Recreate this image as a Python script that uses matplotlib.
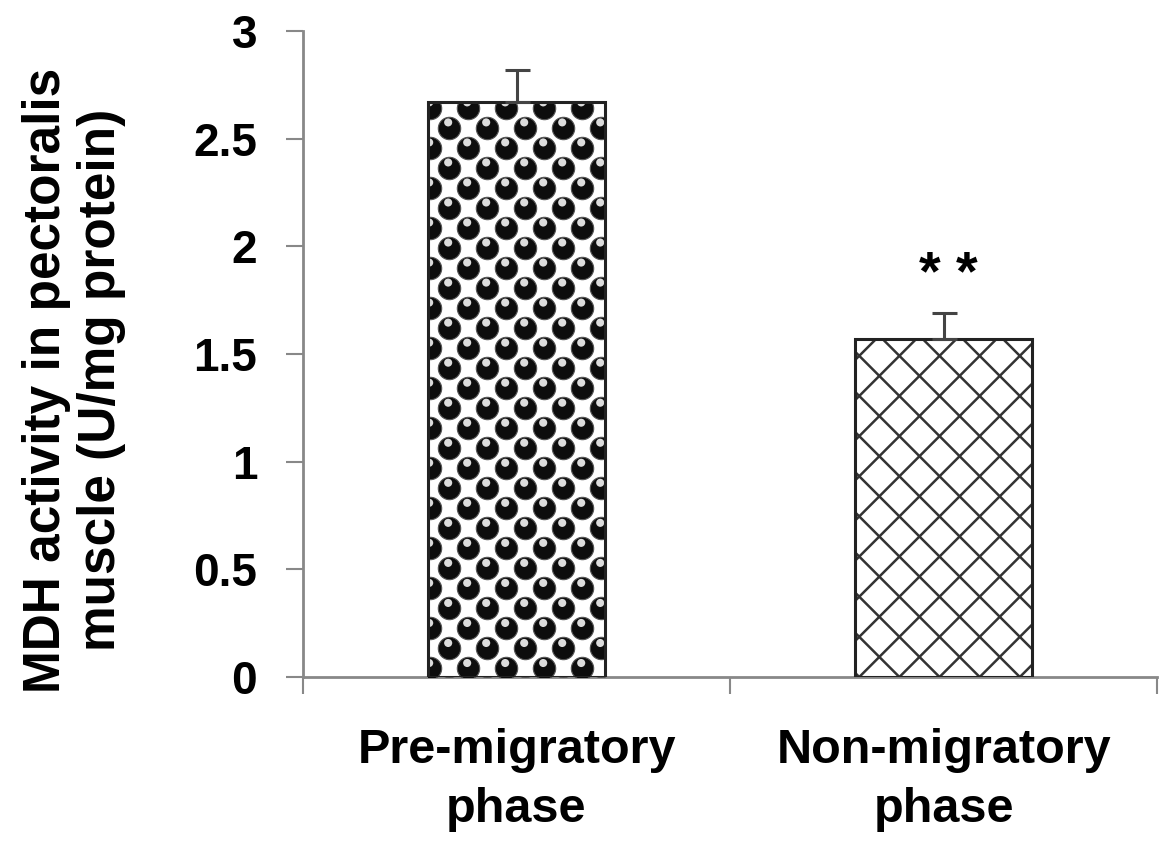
import numpy as np
import matplotlib
matplotlib.use("Agg")
import matplotlib.pyplot as plt
from matplotlib.lines import Line2D

categories = ["Pre-migratory\nphase", "Non-migratory\nphase"]
means = [2.67, 1.57]
errors = [0.15, 0.12]
signif = ["", "* *"]
yticks = [0, 0.5, 1, 1.5, 2, 2.5, 3]

plt.rcParams['font.family'] = ['Liberation Sans', 'DejaVu Sans']
plt.rcParams['font.weight'] = 'bold'

fig = plt.figure(figsize=(11.59, 8.41), dpi=100)
ax = fig.add_axes([0.2614, 0.195, 0.737, 0.768])

x = np.arange(len(categories))
w = 0.415
bars = ax.bar(x, means, width=w, color='white', edgecolor='#222222', linewidth=2, zorder=3)
ax.errorbar(x, means, yerr=[np.zeros(len(errors)), errors], fmt='none', ecolor='#444444',
            elinewidth=2.2, capsize=9, capthick=2.2, zorder=4)

ax.set_xlim(-0.5, 1.5)
ax.set_ylim(0, 3)

# pattern 1: staggered black balls
b = bars[0]
dx, dy = 0.089, 0.093
pts_x, pts_y = [], []
row = 0
yy = means[0] - 0.025
while yy > -dy:
    off = 0 if row % 2 == 0 else dx / 2
    xx = x[0] - w / 2 + 0.006 + off
    while xx < x[0] + w / 2 + dx:
        pts_x.append(xx)
        pts_y.append(yy)
        xx += dx
    yy -= dy
    row += 1
pts_x = np.array(pts_x)
pts_y = np.array(pts_y)
sc = ax.scatter(pts_x, pts_y, s=260, c='#0d0d0d', edgecolors='#555555', linewidths=0.8, zorder=3.5)
sc.set_clip_path(b)
hl = ax.scatter(pts_x - 0.003, pts_y + 0.024, s=34, c='#f4f4f4', marker='o',
                edgecolors='none', alpha=0.9, zorder=3.6)
hl.set_clip_path(b)

# pattern 2: diagonal cross-hatch at 45 degrees on screen
b2 = bars[1]
sx = 0.094
pos = ax.get_position()
slope = (pos.width * 1159 / 2) / (pos.height * 841 / 3)
for k in np.arange(-30, 30):
    x0 = x[1] - w / 2 + 0.01 + k * sx
    for sgn in (1, -1):
        ln = Line2D([x0, x0 + sgn * 2], [0, 2 * slope], color='#333333', lw=1.8, zorder=3.5)
        ax.add_line(ln)
        ln.set_clip_path(b2)
ax.bar(x, means, width=w, color='none', edgecolor='#222222', linewidth=2.2, zorder=3.7)

for i, s in enumerate(signif):
    if s:
        ax.text(x[i] + 0.01, means[i] + errors[i] + 0.05, s, ha='center', va='bottom',
                fontsize=40, fontweight='bold')

ax.set_yticks(yticks)
ax.set_yticklabels([f"{t:g}" for t in yticks], fontsize=33, fontweight='bold')
ax.set_xticks([-0.5, 0.5, 1.5])
ax.set_xticklabels([])
ax.set_xticks(x, minor=True)
ax.set_xticklabels(categories, minor=True, fontsize=35, fontweight='bold', linespacing=1.4)
ax.tick_params(axis='x', which='minor', length=0, pad=37)
ax.tick_params(axis='x', which='major', length=12, width=1.5, color='#888888')
ax.tick_params(axis='y', length=12, width=1.5, color='#888888', pad=21)

for sp in ['top', 'right']:
    ax.spines[sp].set_visible(False)
for sp in ['left', 'bottom']:
    ax.spines[sp].set_color('#888888')
    ax.spines[sp].set_linewidth(2)

ax.set_ylabel("MDH activity in pectoralis\nmuscle (U/mg protein)", fontsize=37,
              fontweight='bold', linespacing=1.15)
ax.yaxis.set_label_coords(-0.207, 0.46)

fig.savefig("out.png", dpi=100)
